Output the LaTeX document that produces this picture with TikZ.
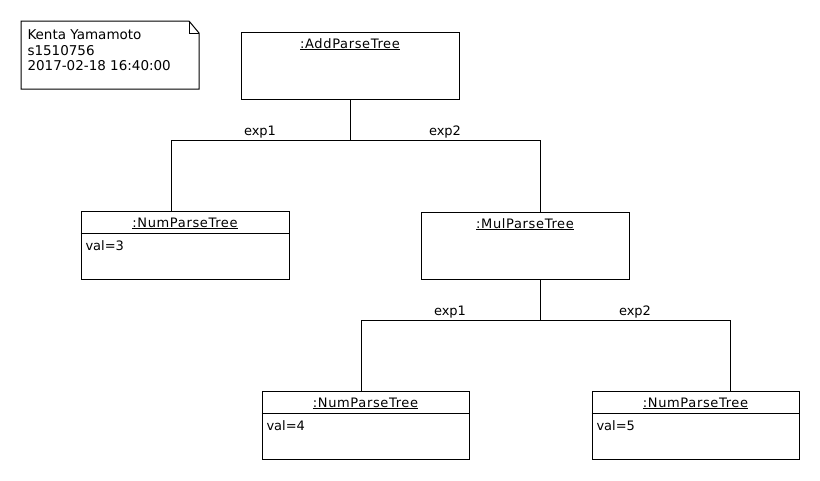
\documentclass[tikz,border=0pt]{standalone}
\usepackage{fontspec}
\setmainfont{DejaVu Sans}
\newfontfamily\namefont[LetterSpace=5]{DejaVu Sans}
\usetikzlibrary{calc}
\begin{document}
\begin{tikzpicture}[x=1pt,y=-1pt,line width=1pt,
  obj/.style={draw,rectangle,minimum width=208pt,minimum height=68pt,inner sep=0pt},
  oname/.style={anchor=base,inner sep=0pt,font=\namefont\fontsize{13}{15}\selectfont},
  attr/.style={anchor=base west,inner sep=0pt,font=\fontsize{13}{15}\selectfont},
  lbl/.style={anchor=base,inner sep=0pt,font=\fontsize{13}{15}\selectfont},
  notetxt/.style={anchor=base west,inner sep=0pt,font=\fontsize{13.5}{15}\selectfont}]
\useasboundingbox[fill=white] (0,0) rectangle (820,480);
% note
\draw (21,21) -- (189,21) -- (199,33) -- (199,89) -- (21,89) -- cycle;
\draw (189,21) -- (189,33) -- (199,33);
\node[notetxt] (n1) at (27,39.5) {Kenta Yamamoto};
\node[notetxt] (n2) at (27,55) {s1510756};
\node[notetxt] (n3) at (27,70.5) {2017-02-18 16:40:00};
% objects
\node[obj,minimum width=218pt,minimum height=67pt] (add) at (350,65.5) {};
\node[oname] (addname) at ($(add.north)+(0,16.5)$) {\underline{:AddParseTree}};
\node[obj] (num1) at (185,245) {};
\node[oname] (num1name) at ($(num1.north)+(0,16.5)$) {\underline{:NumParseTree}};
\draw ($(num1.north west)+(0,23)$) -- ($(num1.north east)+(0,23)$);
\node[attr] (num1val) at ($(num1.north west)+(4.5,39.5)$) {val=3};
\node[obj,minimum height=67pt] (mul) at (525,245.5) {};
\node[oname] (mulname) at ($(mul.north)+(0,16.5)$) {\underline{:MulParseTree}};
\node[obj,minimum width=207pt] (num2) at (365.5,425) {};
\node[oname] (num2name) at ($(num2.north)+(0,16.5)$) {\underline{:NumParseTree}};
\draw ($(num2.north west)+(0,23)$) -- ($(num2.north east)+(0,23)$);
\node[attr] (num2val) at ($(num2.north west)+(4.5,39.5)$) {val=4};
\node[obj,minimum width=207pt] (num3) at (695.5,425) {};
\node[oname] (num3name) at ($(num3.north)+(0,16.5)$) {\underline{:NumParseTree}};
\draw ($(num3.north west)+(0,23)$) -- ($(num3.north east)+(0,23)$);
\node[attr] (num3val) at ($(num3.north west)+(4.5,39.5)$) {val=5};
% links
\coordinate (b1) at (350,140.5);
\draw (add.south) -- (b1);
\draw (b1) -| ([xshift=-14pt]num1.north);
\draw (b1) -| ([xshift=15pt]mul.north);
\node[lbl] (l1) at (260,135.5) {exp1};
\node[lbl] (l2) at (445,135.5) {exp2};
\coordinate (b2) at (540,320.5);
\draw ([xshift=15pt]mul.south) -- (b2);
\draw (b2) -| ([xshift=-4.5pt]num2.north);
\draw (b2) -| ([xshift=34.5pt]num3.north);
\node[lbl] (l3) at (450,315.5) {exp1};
\node[lbl] (l4) at (635,315.5) {exp2};
\end{tikzpicture}
\end{document}
